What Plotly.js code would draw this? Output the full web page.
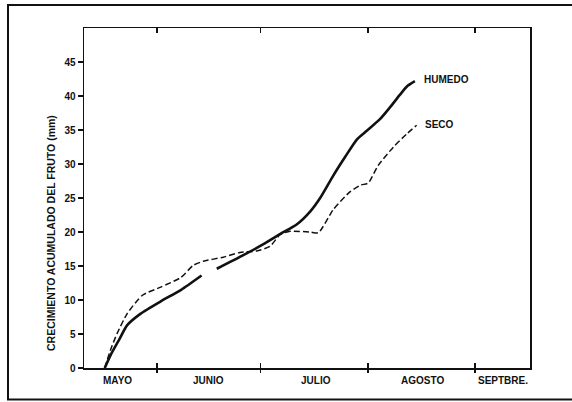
<!DOCTYPE html>
<html>
<head>
<meta charset="utf-8">
<script src="https://cdn.plot.ly/plotly-3.0.1.min.js"></script>
<style>html,body{margin:0;padding:0;background:#fff;}#chart{width:572px;height:402px;}</style>
</head>
<body>
<div id="chart"></div>
<script>
// x values: days counted from 1 May
const humedoDays = [15.9, 17.6, 20.0, 22.4, 26.3, 32.1, 38.0, 43.9, null,
  48.3, 56.0, 61.8, 66.6, 71.4, 75.3, 78.2, 82.0, 85.5, 88.8, 91.7, 95.5, 98.5, 101.3, 103.5, 105.6];
const humedoValues = [0, 1.9, 4.1, 6.3, 8.0, 9.8, 11.5, 13.6, null,
  14.6, 16.6, 18.2, 19.7, 21.1, 23.0, 25.0, 28.3, 31.1, 33.6, 34.9, 36.6, 38.4, 40.2, 41.5, 42.2];

const secoDays = [15.9, 17.6, 19.5, 22.4, 26.8, 32.1, 37.9, 41.5, 44.4, 50.2, 55.0, 59.8, 63.7,
  66.6, 69.5, 75.3, 77.7, 82.0, 86.8, 90.0, 92.1, 95.0, 99.4, 103.2, 106.1];
const secoValues = [0, 2.7, 5.1, 8.0, 10.7, 11.9, 13.3, 15.1, 15.7, 16.3, 17.0, 17.2, 17.9,
  19.6, 20.1, 20.0, 19.9, 23.3, 25.9, 26.9, 27.2, 29.8, 32.5, 34.4, 35.7];

const seriesNames = ["HUMEDO", "SECO"];
const monthBoundaries = [31, 61, 92, 123];          // 1 Jun, 1 Jul, 1 Aug, 1 Sep
const monthLabels = ["MAYO", "JUNIO", "JULIO", "AGOSTO", "SEPTBRE."];
const monthLabelDays = [19.7, 45.8, 77.0, 107.7, 131.1];
const yTicks = [0, 5, 10, 15, 20, 25, 30, 35, 40, 45];
const yTitle = "CRECIMIENTO ACUMULADO DEL FRUTO (mm)";

const ink = "#111";
const font = "Liberation Sans, Arial, Helvetica, sans-serif";
const xRange = [9.9, 138.9];

const traces = [
  {x: humedoDays, y: humedoValues, mode: "lines", name: seriesNames[0],
   line: {color: ink, width: 2.6, shape: "spline", smoothing: 0.6}, connectgaps: false, hoverinfo: "skip"},
  {x: secoDays, y: secoValues, mode: "lines", name: seriesNames[1],
   line: {color: ink, width: 1.5, dash: "6px,3px", shape: "spline", smoothing: 0.6}, hoverinfo: "skip"},
  {x: [monthBoundaries[0]], y: [0], xaxis: "x2", mode: "markers", marker: {opacity: 0},
   showlegend: false, hoverinfo: "skip"}
];

const annotations = [];
monthLabels.forEach((m, i) => annotations.push({
  x: monthLabelDays[i], xref: "x", y: -0.038, yref: "paper", text: "<b>" + m + "</b>",
  showarrow: false, xanchor: "center", yanchor: "middle", font: {family: font, size: 10, color: ink}
}));
annotations.push({x: humedoDays[humedoDays.length - 1], y: humedoValues[humedoValues.length - 1],
  text: "<b>" + seriesNames[0] + "</b>", showarrow: false, xanchor: "left", yanchor: "middle",
  xshift: 7, yshift: 2, font: {family: font, size: 10, color: ink}});
annotations.push({x: secoDays[secoDays.length - 1], y: secoValues[secoValues.length - 1],
  text: "<b>" + seriesNames[1] + "</b>", showarrow: false, xanchor: "left", yanchor: "middle",
  xshift: 6, yshift: 1, font: {family: font, size: 10, color: ink}});
annotations.push({x: -0.074, xref: "paper", y: 0.397, yref: "paper", text: "<b>" + yTitle + "</b>",
  textangle: -90, showarrow: false, xanchor: "center", yanchor: "middle",
  font: {family: font, size: 10.5, color: ink}});

const layout = {
  width: 572, height: 402,
  margin: {l: 84, r: 42, t: 28, b: 34, pad: 0},
  paper_bgcolor: "#fff", plot_bgcolor: "#fff",
  showlegend: false,
  xaxis: {range: xRange, tickvals: monthBoundaries, ticktext: monthBoundaries.map(() => ""),
    ticks: "inside", ticklen: 5, tickwidth: 1.5, tickcolor: ink,
    showline: true, linecolor: ink, linewidth: 1.5, mirror: "ticks",
    showgrid: false, zeroline: false, fixedrange: true},
  xaxis2: {range: xRange, overlaying: "x", side: "bottom", tickvals: monthBoundaries,
    ticktext: monthBoundaries.map(() => ""), ticks: "outside", ticklen: 4, tickwidth: 1.5,
    tickcolor: ink, showline: false, showgrid: false, zeroline: false},
  yaxis: {range: [0, 50], tickvals: yTicks, ticktext: yTicks.map(v => "<b>" + v + "</b>"),
    ticks: "outside", ticklen: 5, tickwidth: 1.5, tickcolor: ink,
    tickfont: {family: font, size: 10, color: ink},
    showline: true, linecolor: ink, linewidth: 1.5, mirror: true,
    showgrid: false, zeroline: false, fixedrange: true},
  annotations: annotations,
  shapes: [{type: "rect", xref: "paper", yref: "paper", x0: -0.1704, x1: 1.35, y0: -0.0925, y1: 1.0676,
    line: {color: ink, width: 2}, fillcolor: "rgba(0,0,0,0)"}]
};

Plotly.newPlot("chart", traces, layout, {staticPlot: true, displayModeBar: false});
</script>
</body>
</html>
